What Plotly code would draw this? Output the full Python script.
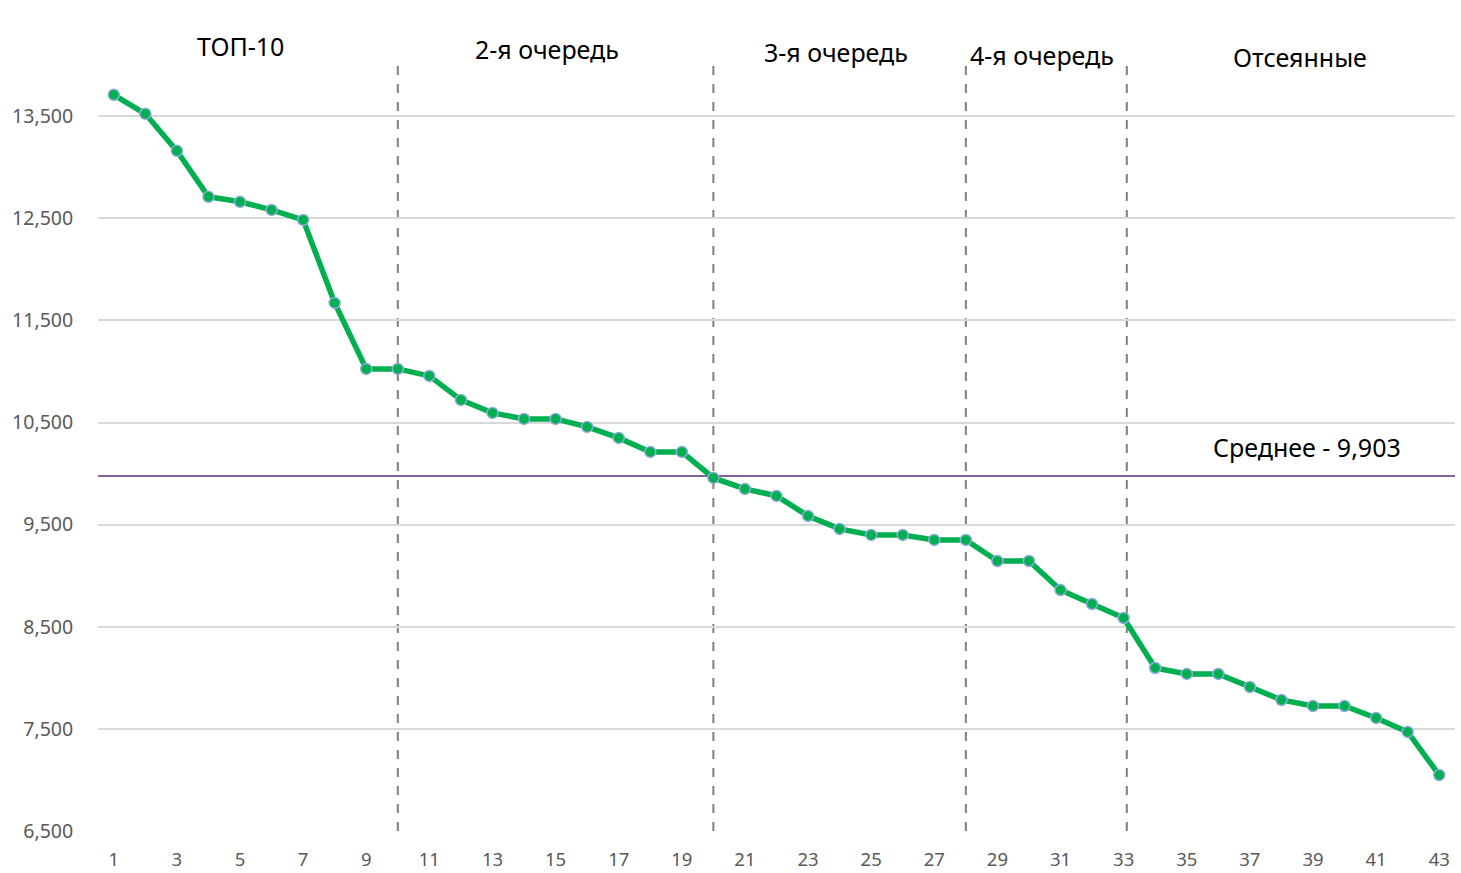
import plotly.graph_objects as go

# ---- data ----
positions = list(range(1, 44))
scores = [13709, 13523, 13160, 12710, 12661, 12582, 12484, 11671, 11025, 11025,
          10956, 10721, 10594, 10535, 10535, 10457, 10349, 10212, 10212, 9957,
          9850, 9781, 9585, 9458, 9399, 9399, 9350, 9350, 9144, 9144,
          8860, 8723, 8586, 8096, 8038, 8038, 7910, 7783, 7724, 7724,
          7607, 7470, 7048]
mean_value = 9975
mean_label = "Среднее - 9,903"
group_bounds = [10, 20, 28, 33.1]
group_labels = ["ТОП-10", "2-я очередь", "3-я очередь", "4-я очередь", "Отсеянные"]
group_label_x = [5.0, 14.72, 23.9, 30.4, 38.6]
group_label_y = [14189, 14159, 14130, 14100, 14081]
y_ticks = [6500, 7500, 8500, 9500, 10500, 11500, 12500, 13500]

GREEN = "#00B050"
font_family = "Noto Sans, Open Sans, DejaVu Sans, sans-serif"

fig = go.Figure()
fig.add_trace(go.Scatter(
    x=positions, y=scores, mode="lines+markers",
    line=dict(color=GREEN, width=5.5),
    marker=dict(size=11, color=GREEN, line=dict(color="#8FAADC", width=1.5)),
    showlegend=False, hoverinfo="x+y",
))

shapes = []
shapes.append(dict(type="line", xref="paper", x0=0, x1=1, yref="y",
                   y0=mean_value, y1=mean_value,
                   line=dict(color="#8064A2", width=2), layer="below"))
for b in group_bounds:
    shapes.append(dict(type="line", xref="x", x0=b, x1=b, yref="y",
                       y0=6500, y1=14010,
                       line=dict(color="#7F7F7F", width=2, dash="dash"), layer="below"))

annotations = []
for lbl, ax, ay in zip(group_labels, group_label_x, group_label_y):
    annotations.append(dict(x=ax, y=ay, xref="x", yref="y", text=lbl,
                            showarrow=False, font=dict(size=25, color="#000000",
                                                       family=font_family)))
annotations.append(dict(x=38.8, y=10261, xref="x", yref="y", text=mean_label,
                        showarrow=False, font=dict(size=25, color="#000000",
                                                   family=font_family)))

fig.update_layout(
    width=1461, height=873,
    margin=dict(l=98, r=6, t=14, b=42, autoexpand=False),
    paper_bgcolor="white", plot_bgcolor="white",
    shapes=shapes, annotations=annotations,
    font=dict(family=font_family, color="#595959", size=19.5),
    xaxis=dict(range=[0.5, 43.5], tickmode="linear", tick0=1, dtick=2,
               automargin=False,
               showgrid=False, zeroline=False, showline=False,
               ticks="outside", ticklen=12, tickcolor="rgba(0,0,0,0)",
               tickfont=dict(size=18.5, color="#595959")),
    yaxis=dict(range=[6500, 14500], tickmode="array", tickvals=y_ticks,
               ticktext=[f"{v:,}" for v in y_ticks], automargin=False,
               showgrid=True, gridcolor="#D9D9D9", gridwidth=2,
               zeroline=False, showline=False,
               ticks="outside", ticklen=20, tickcolor="rgba(0,0,0,0)",
               tickfont=dict(size=19.5, color="#595959")),
)

fig.write_html("out.html", config={"displayModeBar": False},
               post_script="document.body.style.margin='0';document.body.style.overflow='hidden';")
